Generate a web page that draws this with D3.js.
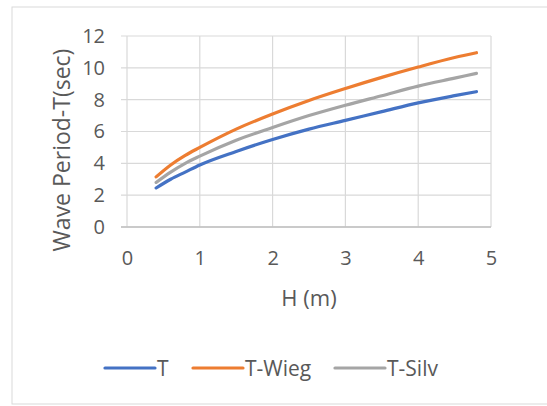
<!DOCTYPE html>
<html lang='en'>
<head>
   <meta charset='UTF-8'>
   <title>Wave period vs H</title>
   <script src='https://d3js.org/d3.v7.min.js'></script>
   <style>
      body { margin: 0; background: #fff; }
      svg { display: block; font-family: 'Open Sans', sans-serif; }
   </style>
</head>
<body>
   <div id='chart'></div>
   <script>
      // values
      const hValues = [0.4, 0.6, 0.8, 1.0, 1.5, 2.0, 2.5, 3.0, 3.5, 4.0, 4.5, 4.8];
      const tValues = [2.45, 3.0, 3.45, 3.9, 4.75, 5.5, 6.15, 6.7, 7.25, 7.8, 8.25, 8.5];
      const tWiegValues = [3.15, 3.9, 4.5, 5.0, 6.15, 7.1, 7.95, 8.7, 9.4, 10.05, 10.65, 10.95];
      const tSilvValues = [2.8, 3.45, 4.0, 4.45, 5.45, 6.25, 7.0, 7.65, 8.25, 8.85, 9.35, 9.65];
      const seriesNames = ['T', 'T-Wieg', 'T-Silv'];
      const xTicks = [0, 1, 2, 3, 4, 5];
      const yTicks = [0, 2, 4, 6, 8, 10, 12];

      const colours = ['#4472c4', '#ed7d31', '#a5a5a5'];
      const series = [tValues, tWiegValues, tSilvValues].map((vals, i) => ({
         name: seriesNames[i],
         points: vals.map((v, j) => ({ h: hValues[j], t: v }))
      }));

      const W = 547, H = 406;
      const svg = d3.select('#chart').append('svg').attr('width', W).attr('height', H);

      // chart frame (right edge runs off the page)
      svg.append('rect')
         .attr('x', 12).attr('y', 7).attr('width', 560).attr('height', 397)
         .attr('fill', '#fff').attr('stroke', '#d9d9d9').attr('stroke-width', 1);

      const x = d3.scaleLinear().domain([0, 5]).range([127, 491]);
      const y = d3.scaleLinear().domain([0, 12]).range([227, 36]);

      // gridlines
      const grid = svg.append('g');
      grid.selectAll('.vg').data(xTicks).join('line')
         .attr('x1', d => x(d)).attr('x2', d => x(d))
         .attr('y1', y(0)).attr('y2', y(12))
         .attr('stroke', '#d9d9d9').attr('stroke-width', 1.2);
      grid.selectAll('.hg').data(yTicks).join('line')
         .attr('x1', x(0) - 6).attr('x2', x(5))
         .attr('y1', d => y(d)).attr('y2', d => y(d))
         .attr('stroke', '#d9d9d9').attr('stroke-width', 1.2);

      // axes
      const xAxis = svg.append('g').attr('transform', `translate(0, ${y(0)})`)
         .call(d3.axisBottom(x).tickValues(xTicks).tickFormat(d3.format('d')).tickSize(0).tickPadding(24));
      const yAxis = svg.append('g').attr('transform', `translate(${x(0)}, 0)`)
         .call(d3.axisLeft(y).tickValues(yTicks).tickFormat(d3.format('d')).tickSize(0).tickPadding(22));
      [xAxis, yAxis].forEach(a => {
         a.select('.domain').remove();
         a.selectAll('text').attr('fill', '#595959').style('font-size', '20px')
            .style('font-family', "'Open Sans', sans-serif");
      });
      svg.append('line')
         .attr('x1', x(0) - 6).attr('x2', x(5)).attr('y1', y(0)).attr('y2', y(0))
         .attr('stroke', '#bfbfbf').attr('stroke-width', 1.5);

      // axis titles
      svg.append('text')
         .attr('transform', `translate(70, 150) rotate(-90)`)
         .attr('text-anchor', 'middle')
         .attr('fill', '#595959').style('font-size', '23px')
         .text('Wave Period-T(sec)');
      svg.append('text')
         .attr('x', 309).attr('y', 306)
         .attr('text-anchor', 'middle')
         .attr('fill', '#595959').style('font-size', '22px')
         .text('H (m)');

      // lines
      const line = d3.line().x(d => x(d.h)).y(d => y(d.t)).curve(d3.curveMonotoneX);
      svg.append('g').selectAll('path').data(series).join('path')
         .attr('d', d => line(d.points))
         .attr('fill', 'none')
         .attr('stroke', (d, i) => colours[i])
         .attr('stroke-width', 3.2)
         .attr('stroke-linecap', 'round');

      // legend
      const legendX = [105, 193, 335];
      const legend = svg.append('g').selectAll('g').data(series).join('g')
         .attr('transform', (d, i) => `translate(${legendX[i]}, 368)`);
      legend.append('line')
         .attr('x1', 0).attr('x2', 50).attr('y1', 0).attr('y2', 0)
         .attr('stroke', (d, i) => colours[i]).attr('stroke-width', 3.2)
         .attr('stroke-linecap', 'round');
      legend.append('text')
         .attr('x', 52).attr('y', 8)
         .attr('fill', '#595959').style('font-size', '21px')
         .text(d => d.name);
   </script>
</body>
</html>
